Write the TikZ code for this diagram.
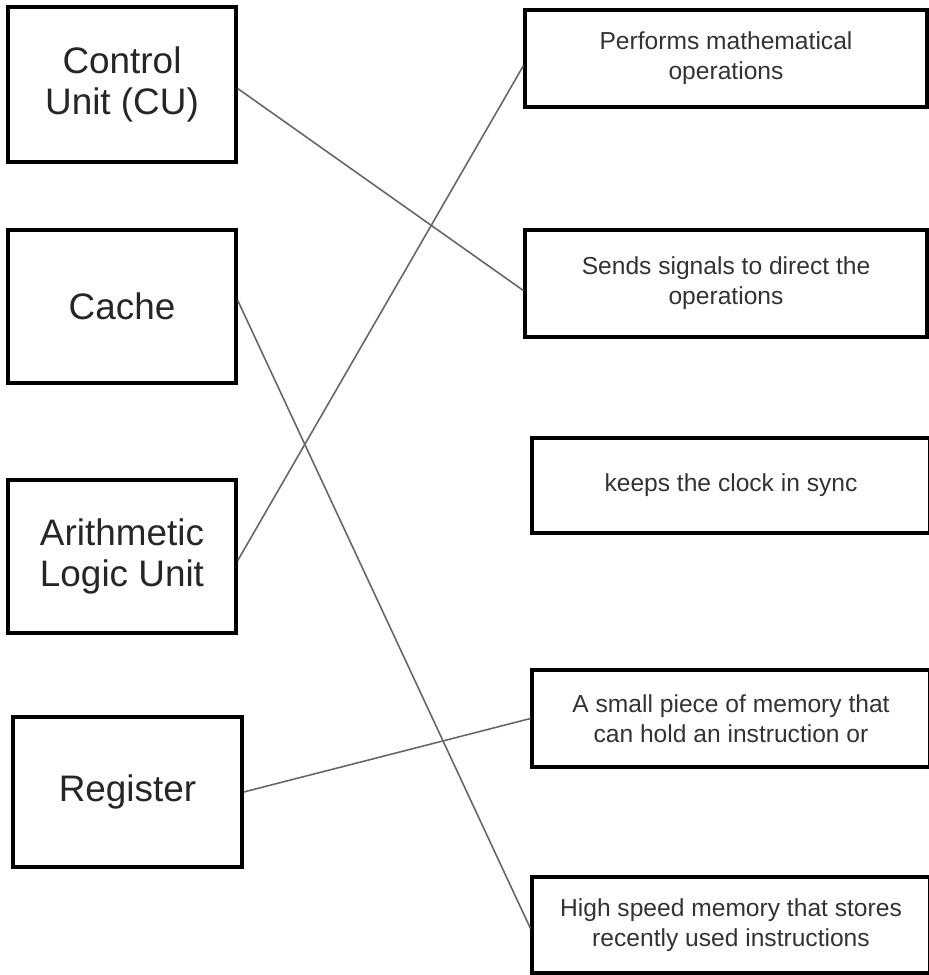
\documentclass[tikz,border=0pt]{standalone}
\usepackage{fontspec}
\setmainfont{Liberation Sans}
\tikzset{
  part/.style={draw, rectangle, line width=2pt, minimum width=4.56cm, minimum height=3.06cm, align=center, text=black!85, font=\fontsize{21}{23}\selectfont},
  role/.style={draw, rectangle, line width=1.8pt, minimum width=8.04cm, minimum height=1.94cm, align=center, text=black!80, font=\fontsize{14}{17}\selectfont},
  link/.style={draw=black!60, line width=0.9pt}
}
\begin{document}
\begin{tikzpicture}[x=0.02cm, y=-0.02cm]
\useasboundingbox (0,0) rectangle (929,975);
% parts of the CPU
\node[part, minimum height=3.1cm] (CU) at (122,84.5) {Control\\Unit (CU)};
\node[part] (cache) at (122,306.5) {Cache};
\node[part] (ALU) at (122,556.5) {Arithmetic\\Logic Unit};
\node[part, minimum width=4.58cm, minimum height=3cm] (reg) at (127.5,792) {Register};
% what they do
\node[role] (maths) at (726,58.5) {Performs mathematical\\operations};
\node[role, minimum height=2.14cm] (signals) at (726,283.5) {Sends signals to direct the\\operations};
\node[role, minimum width=7.96cm, minimum height=1.9cm] (clock) at (731,485.5) {keeps the clock in sync};
\node[role, minimum width=7.96cm] (small) at (731,718.5) {A small piece of memory that\\can hold an instruction or};
\node[role, minimum width=7.96cm, minimum height=1.92cm] (fast) at (731,925) {High speed memory that stores\\recently used instructions};
% matching lines
\draw[link] (CU.358.2) -- (signals.182.4);
\draw[link] (cache.3.3) -- (fast.181.4);
\draw[link] (ALU.358.2) -- (maths.182.4);
\draw[link] (reg.east) -- (small.west);
\end{tikzpicture}
\end{document}
